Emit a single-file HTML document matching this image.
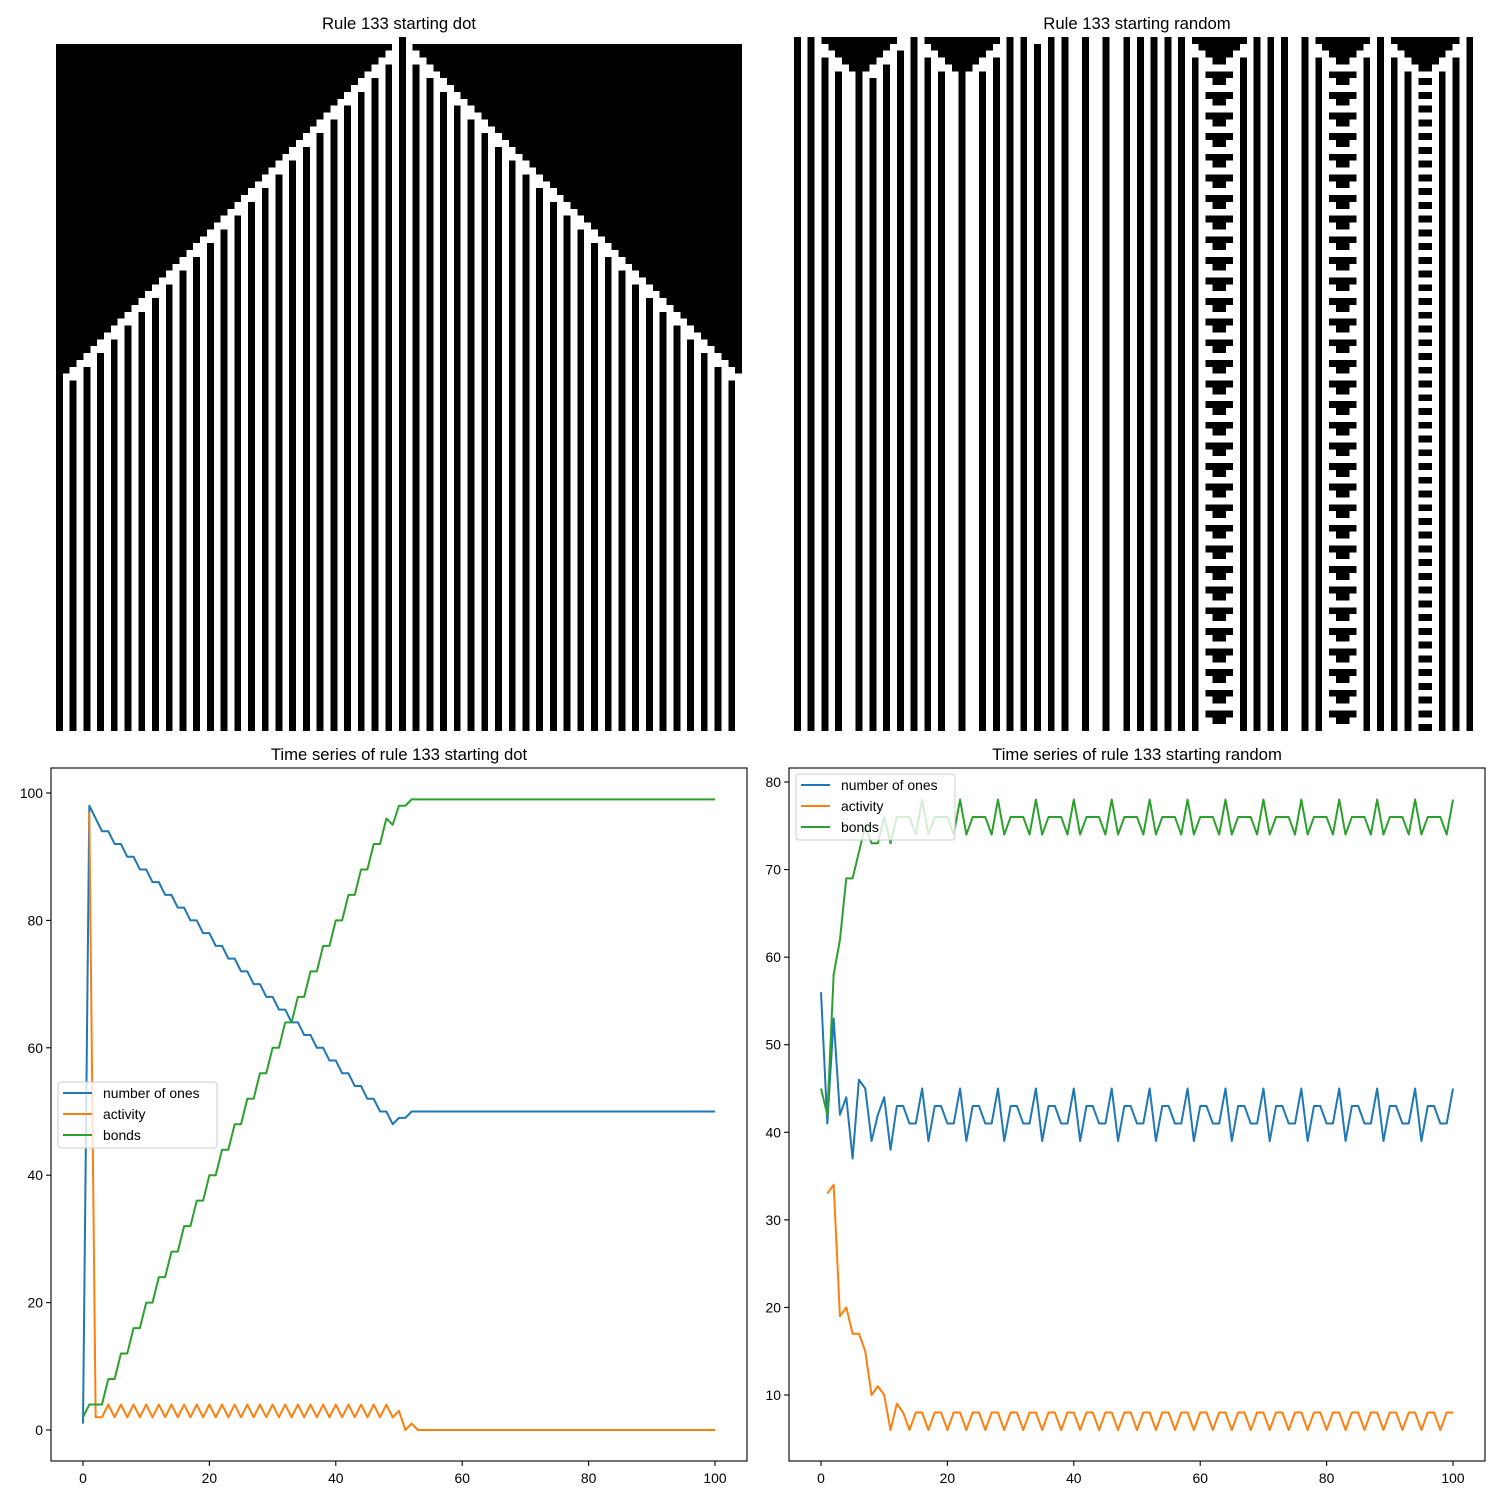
<!DOCTYPE html>
<html><head><meta charset="utf-8">
<style>
html,body{margin:0;padding:0;background:#fff;}
svg{display:block;font-family:"Liberation Sans","DejaVu Sans",sans-serif;}
</style></head>
<body>
<svg id="fig" width="1500" height="1500" viewBox="0 0 1500 1500" xmlns="http://www.w3.org/2000/svg">
<rect x="0" y="0" width="1500" height="1500" fill="#fff"/>
<text x="399" y="29" font-size="16.7" text-anchor="middle">Rule 133 starting dot</text>
<text x="1137" y="29" font-size="16.7" text-anchor="middle">Rule 133 starting random</text>
<text x="399" y="760" font-size="16.7" text-anchor="middle">Time series of rule 133 starting dot</text>
<text x="1137" y="760" font-size="16.7" text-anchor="middle">Time series of rule 133 starting random</text>
<g id="gridDot" shape-rendering="crispEdges"></g>
<g id="gridRand" shape-rendering="crispEdges"></g>
<g id="chartDot"></g>
<g id="chartRand"></g>
</svg>
<script>
// ---- CA data ----
const RULE = 133;
const NCELLS = 100;
const NSTEPS = 101;
const dotStartCol = 50;
const randOnes = [0,2,17,19,23,28,31,33,37,39,42,45,48,50,52,54,56,67,69,71,74,85,98];
const randBlocks = [[4,14],[20,25],[26,29],[58,65],[76,83],[87,96]];

// ---- time series data ----
const tickX = [0,20,40,60,80,100];
const tickYDot = [0,20,40,60,80,100];
const tickYRand = [10,20,30,40,50,60,70,80];
const seriesNames = ["number of ones","activity","bonds"];
const dotOnes = [1,98,96,94,94,92,92,90,90,88,88,86,86,84,84,82,82,80,80,78,78,76,76,74,74,72,72,70,70,68,68,66,66,64,64,62,62,60,60,58,58,56,56,54,54,52,52,50,50,48,49,49,50,50,50,50,50,50,50,50,50,50,50,50,50,50,50,50,50,50,50,50,50,50,50,50,50,50,50,50,50,50,50,50,50,50,50,50,50,50,50,50,50,50,50,50,50,50,50,50,50];
const dotAct = [null,97,2,2,4,2,4,2,4,2,4,2,4,2,4,2,4,2,4,2,4,2,4,2,4,2,4,2,4,2,4,2,4,2,4,2,4,2,4,2,4,2,4,2,4,2,4,2,4,2,3,0,1,0,0,0,0,0,0,0,0,0,0,0,0,0,0,0,0,0,0,0,0,0,0,0,0,0,0,0,0,0,0,0,0,0,0,0,0,0,0,0,0,0,0,0,0,0,0,0,0];
const dotBonds = [2,4,4,4,8,8,12,12,16,16,20,20,24,24,28,28,32,32,36,36,40,40,44,44,48,48,52,52,56,56,60,60,64,64,68,68,72,72,76,76,80,80,84,84,88,88,92,92,96,95,98,98,99,99,99,99,99,99,99,99,99,99,99,99,99,99,99,99,99,99,99,99,99,99,99,99,99,99,99,99,99,99,99,99,99,99,99,99,99,99,99,99,99,99,99,99,99,99,99,99,99];
const randOnesSeries = [56,41,53,42,44,37,46,45,39,42,44,38,43,43,41,41,45,39,43,43,41,41,45,39,43,43,41,41,45,39,43,43,41,41,45,39,43,43,41,41,45,39,43,43,41,41,45,39,43,43,41,41,45,39,43,43,41,41,45,39,43,43,41,41,45,39,43,43,41,41,45,39,43,43,41,41,45,39,43,43,41,41,45,39,43,43,41,41,45,39,43,43,41,41,45,39,43,43,41,41,45];
const randAct = [null,33,34,19,20,17,17,15,10,11,10,6,9,8,6,8,8,6,8,8,6,8,8,6,8,8,6,8,8,6,8,8,6,8,8,6,8,8,6,8,8,6,8,8,6,8,8,6,8,8,6,8,8,6,8,8,6,8,8,6,8,8,6,8,8,6,8,8,6,8,8,6,8,8,6,8,8,6,8,8,6,8,8,6,8,8,6,8,8,6,8,8,6,8,8,6,8,8,6,8,8];
const randBonds = [45,42,58,62,69,69,72,75,73,73,76,73,76,76,76,74,78,74,76,76,76,74,78,74,76,76,76,74,78,74,76,76,76,74,78,74,76,76,76,74,78,74,76,76,76,74,78,74,76,76,76,74,78,74,76,76,76,74,78,74,76,76,76,74,78,74,76,76,76,74,78,74,76,76,76,74,78,74,76,76,76,74,78,74,76,76,76,74,78,74,76,76,76,74,78,74,76,76,76,74,78];

const NS = "http://www.w3.org/2000/svg";
function mk(tag, attrs, parent){
  const e = document.createElementNS(NS, tag);
  for (const k in attrs) e.setAttribute(k, attrs[k]);
  if (parent) parent.appendChild(e);
  return e;
}
function simulate(row0){
  const rows=[row0.slice()];
  for(let t=1;t<NSTEPS;t++){
    const p=rows[t-1], r=[];
    for(let i=0;i<NCELLS;i++){
      const l=p[(i-1+NCELLS)%NCELLS], c=p[i], rr=p[(i+1)%NCELLS];
      r.push((RULE>>(l*4+c*2+rr))&1);
    }
    rows.push(r);
  }
  return rows;
}
function drawGrid(g, rows, x0, y0, w, h){
  const cw=w/NCELLS, ch=h/rows.length;
  const bg=mk('rect',{x:x0,y:y0,width:w,height:h,fill:'#fff'},g);
  
  
  rows.forEach((r,t)=>{
    let i=0;
    while(i<NCELLS){
      if(r[i]===1){
        let j=i; while(j<NCELLS && r[j]===1) j++;
        const c=mk('rect',{x:(x0+i*cw).toFixed(2),y:(y0+t*ch).toFixed(2),width:((j-i)*cw).toFixed(2),height:ch.toFixed(2),fill:'#000'},g);
        
        
        i=j;
      } else i++;
    }
  });
}
const dotRow=new Array(NCELLS).fill(0); dotRow[dotStartCol]=1;
drawGrid(document.getElementById('gridDot'), simulate(dotRow), 56, 37, 686, 694);
const randRow=new Array(NCELLS).fill(0);
randOnes.forEach(i=>randRow[i]=1);
randBlocks.forEach(b=>{for(let i=b[0];i<=b[1];i++) randRow[i]=1;});
drawGrid(document.getElementById('gridRand'), simulate(randRow), 794, 37, 686, 694);

const colors=["#1f77b4","#ff7f0e","#2ca02c"];
function drawChart(g, box, xs, ys, xticks, yticks, series, legend){
  const X=v=>xs[0]+(v-xs[1])*xs[2];
  const Y=v=>ys[0]-(v-ys[1])*ys[2];
  series.forEach((s,k)=>{
    let d='', pen=false;
    s.forEach((v,t)=>{
      if(v===null){pen=false;return;}
      d+=(pen?'L':'M')+X(t).toFixed(2)+' '+Y(v).toFixed(2);
      pen=true;
    });
    const p=mk('path',{d:d,fill:'none',stroke:colors[k],'stroke-width':2,'stroke-linejoin':'round'},g);
    
    
  });
  const fr=mk('rect',{x:box[0],y:box[1],width:box[2]-box[0],height:box[3]-box[1],fill:'none',stroke:'#000','stroke-width':1.1},g);
  
  
  xticks.forEach(v=>{
    const x=X(v);
    const tk=mk('line',{x1:x,y1:box[3],x2:x,y2:box[3]+4.9,stroke:'#000','stroke-width':1.1},g);
    
    
    const tx=mk('text',{x:x,y:box[3]+22,'font-size':13.9,'text-anchor':'middle'},g);
    tx.textContent=v;
    
    
  });
  yticks.forEach(v=>{
    const y=Y(v);
    const tk=mk('line',{x1:box[0]-4.9,y1:y,x2:box[0],y2:y,stroke:'#000','stroke-width':1.1},g);
    
    
    const tx=mk('text',{x:box[0]-8,y:y+5,'font-size':13.9,'text-anchor':'end'},g);
    tx.textContent=v;
    
    
  });
  const lg=mk('g',{},g);
  
  
  const lb=mk('rect',{x:legend[0],y:legend[1],width:159,height:66,rx:3,fill:'#fff','fill-opacity':0.8,stroke:'#ccc','stroke-width':1},lg);
  
  
  seriesNames.forEach((n,k)=>{
    const yy=legend[1]+11+k*21;
    const ln=mk('line',{x1:legend[0]+5,y1:yy,x2:legend[0]+34,y2:yy,stroke:colors[k],'stroke-width':2},lg);
    
    
    const tx=mk('text',{x:legend[0]+45,y:yy+5,'font-size':13.9},lg);
    tx.textContent=n;
    
    
  });
}
drawChart(document.getElementById('chartDot'),[51,768,747,1461],[83,0,6.32],[1430,0,6.37],tickX,tickYDot,[dotOnes,dotAct,dotBonds],[58,1082]);
drawChart(document.getElementById('chartRand'),[789,768,1485,1461],[821,0,6.32],[1395,10,8.757],tickX,tickYRand,[randOnesSeries,randAct,randBonds],[796,774]);
</script>
</body></html>
